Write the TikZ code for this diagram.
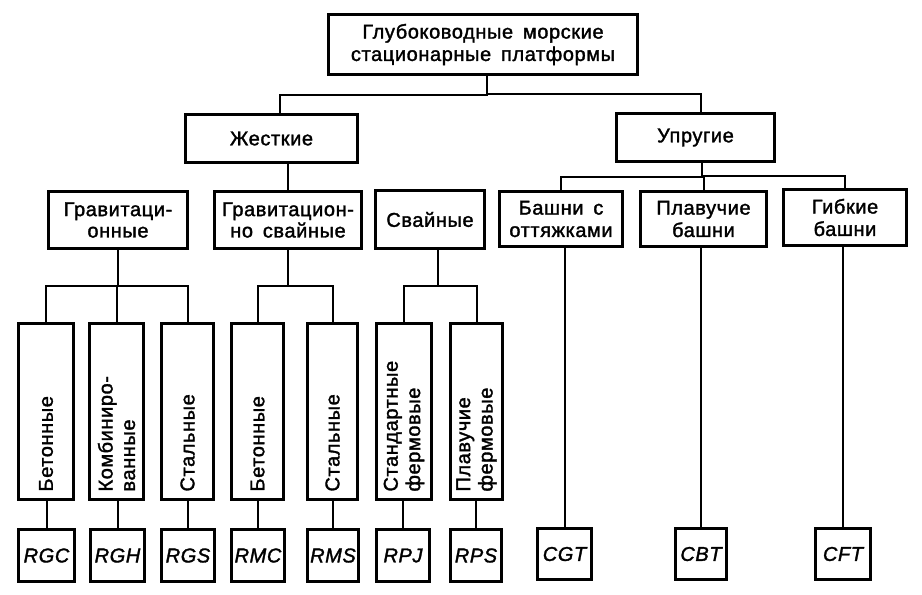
\documentclass[tikz,border=0pt]{standalone}
\usepackage{fontspec}
\usepackage{graphicx}
\setmainfont{Liberation Sans}[LetterSpace=3, WordSpace=1.6, FakeBold=1.6]
\usetikzlibrary{calc}
\newcommand{\bx}{\fontsize{10}{11.2}\selectfont}
\newcommand{\vtext}[1]{\rotatebox{90}{\begin{minipage}{80pt}\raggedright #1\end{minipage}}}

\tikzset{
    box/.style={draw, line width=1.6pt, inner sep=0pt, align=center, font=\bx},
    size/.style 2 args={minimum width=#1*0.5pt-1.6pt, minimum height=#2*0.5pt-1.6pt},
    code/.style={box, font=\bx\itshape},
    tree/.style={to path={(\tikztostart) |- ($(\tikztostart)!0.5!(\tikztotarget)$) -| (\tikztotarget)}},
    drop/.style={to path={(\tikztostart) -- (\tikztostart |- \tikztotarget)}},
}

\begin{document}
\begin{tikzpicture}[x=0.5pt, y=-0.5pt]
    \useasboundingbox (0,0) rectangle (922,595);
    % Levels 1 and 2
    \node[box, size={312}{63}](deep)    at (483,44.5)   {Глубоководные морские\\стационарные платформы};
    \node[box, size={175}{51}](rigid)   at (271.5,138.5) {Жесткие};
    \node[box, size={161}{51}](elast)   at (695.5,137.5) {Упругие};
    % Level 3
    \node[box, size={142}{60}](grav)    at (118,220)    {Гравитаци-\\[-0.5pt]онные};
    \node[box, size={150}{60}](gpile)   at (288,220)    {Гравитацион-\\[-0.5pt]но свайные};
    \node[box, size={112}{61}](pile)    at (430,219.5)  {Свайные};
    \node[box, size={126}{58}](guyed)   at (561,219)    {Башни с\\оттяжками};
    \node[box, size={129}{58}](buoy)    at (703.5,219)  {Плавучие\\башни};
    \node[box, size={126}{59}](flex)    at (845,217.5)  {Гибкие\\башни};
    % Level 4
    \node[box, size={58}{179}](gc)      at (46,411.5)   {\vtext{Бетонные}};
    \node[box, size={57}{179}](gh)      at (116.5,411.5) {\vtext{Комбиниро-\\ванные}};
    \node[box, size={55}{179}](gs)      at (187.5,411.5) {\vtext{Стальные}};
    \node[box, size={55}{179}](mc)      at (257.5,411.5) {\vtext{Бетонные}};
    \node[box, size={53}{179}](ms)      at (332.5,411.5) {\vtext{Стальные}};
    \node[box, size={58}{179}](pj)      at (404,411.5)  {\vtext{Стандартные\\фермовые}};
    \node[box, size={55}{179}](ps)      at (476.5,411.5) {\vtext{Плавучие\\фермовые}};
    % Level 5
    \node[code, size={59}{55}](RGC)     at (46.5,555.5) {RGC};
    \node[code, size={57}{55}](RGH)     at (117.5,555.5) {RGH};
    \node[code, size={56}{55}](RGS)     at (188,555.5)  {RGS};
    \node[code, size={56}{55}](RMC)     at (258,555.5)  {RMC};
    \node[code, size={54}{55}](RMS)     at (333,555.5)  {RMS};
    \node[code, size={56}{55}](RPJ)     at (403,555.5)  {RPJ};
    \node[code, size={54}{55}](RPS)     at (476,555.5)  {RPS};
    \node[code, size={57}{54}](CGT)     at (564.5,554)  {CGT};
    \node[code, size={54}{54}](CBT)     at (701,554)    {CBT};
    \node[code, size={58}{54}](CFT)     at (843,554)    {CFT};
    % Connection points off the middle
    \coordinate (deep-s)  at ([xshift=2pt]deep.south);
    \coordinate (rigid-n) at ([xshift=4.25pt]rigid.north);
    \coordinate (elast-n) at ([xshift=2.75pt]elast.north);
    \coordinate (elast-s) at ([xshift=3.25pt]elast.south);
    \coordinate (pile-s)  at ([xshift=4pt]pile.south);
    % Connections
    \path[line width=1pt]
        (deep-s)
            edge [tree] (rigid-n)
            edge [tree] (elast-n)
        (gpile.north)
            edge [drop] (rigid.south)
        (elast-s)
            edge [tree] (guyed.north)
            edge [tree] (buoy.north)
            edge [tree] (flex.north)
        (grav.south)
            edge [tree] (gc.north)
            edge [tree] (gh.north)
            edge [tree] (gs.north)
        (gpile.south)
            edge [tree] (mc.north)
            edge [tree] (ms.north)
        (pile-s)
            edge [tree] (pj.north)
            edge [tree] (ps.north)
        (RGC.north) edge [drop] (gc.south)
        (RGH.north) edge [drop] (gh.south)
        (RGS.north) edge [drop] (gs.south)
        (RMC.north) edge [drop] (mc.south)
        (RMS.north) edge [drop] (ms.south)
        (RPJ.north) edge [drop] (pj.south)
        (RPS.north) edge [drop] (ps.south)
        (CGT.north) edge [drop] (guyed.south)
        (CBT.north) edge [drop] (buoy.south)
        (CFT.north) edge [drop] (flex.south)
        ;
\end{tikzpicture}
\end{document}
